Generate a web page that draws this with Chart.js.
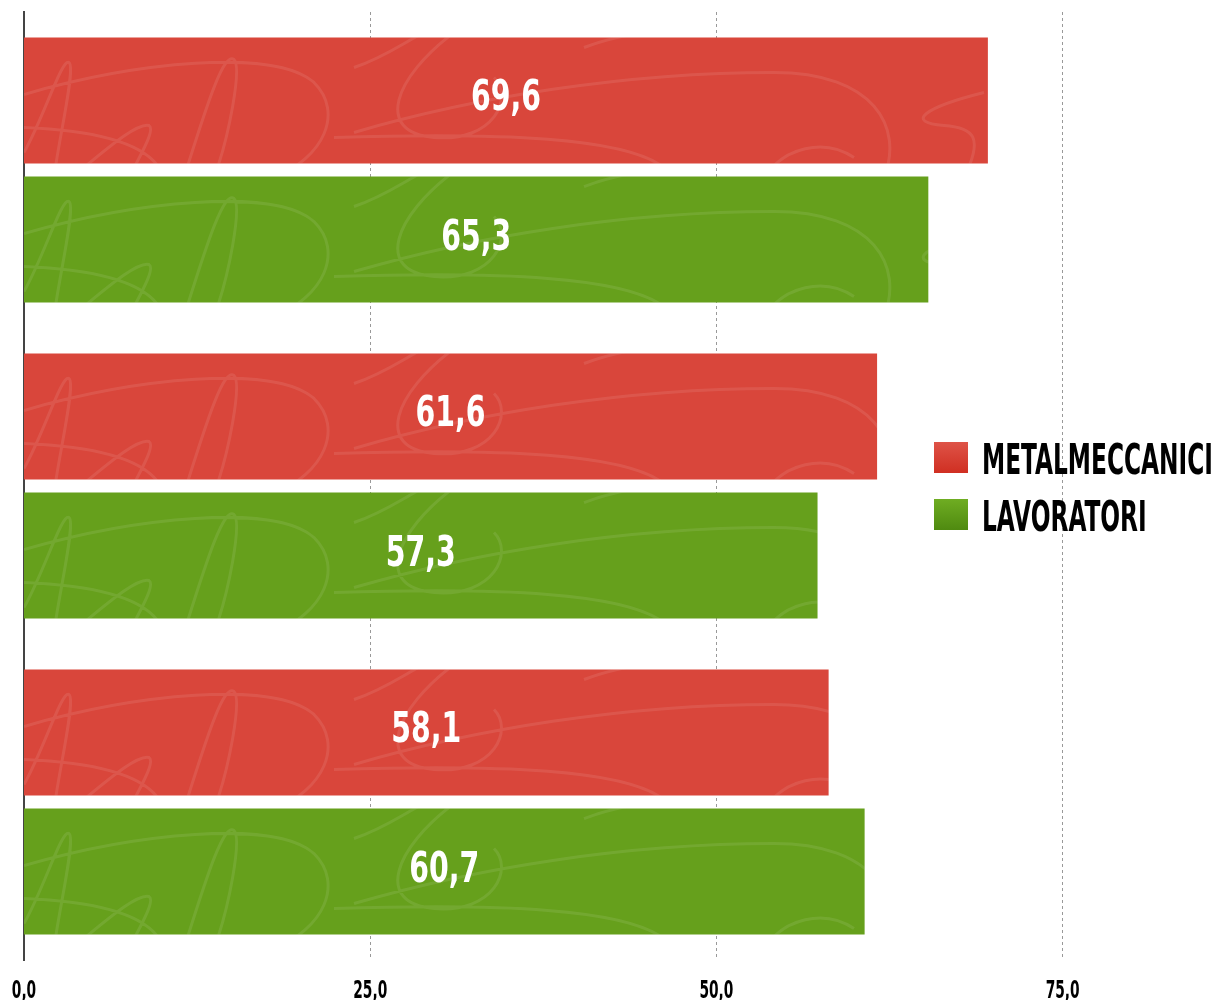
<!DOCTYPE html>
<html>
<head>
<meta charset="utf-8">
<script src="https://cdn.jsdelivr.net/npm/chart.js@4.4.1/dist/chart.umd.min.js"></script>
<style>
  html, body { margin: 0; padding: 0; background: #fff; }
  #wrap { width: 1215px; height: 1000px; position: relative; }
</style>
</head>
<body>
<div id="wrap"><canvas id="chart"></canvas></div>
<script>
// data
const categories = ["1", "2", "3"];
const seriesNames = ["METALMECCANICI", "LAVORATORI"];
const metalmeccanici = [69.6, 61.6, 58.1];
const lavoratori = [65.3, 57.3, 60.7];
const xTicks = [0, 25, 50, 75];

const FONT = "'Liberation Sans Narrow', 'DejaVu Sans Condensed', 'DejaVu Sans', sans-serif";
const RED = '#d9463b';
const GREEN = '#66a01c';

const fmt = v => v.toFixed(1).replace('.', ',');

// draw text squeezed horizontally so a sample string gets a given width
function narrowText(ctx, text, x, y, size, sx, align, color) {
  ctx.save();
  ctx.font = 'bold ' + size + 'px ' + FONT;
  ctx.fillStyle = color;
  ctx.textBaseline = 'alphabetic';
  const w = ctx.measureText(text).width * sx;
  let left = x;
  if (align === 'center') left = x - w / 2;
  ctx.translate(left, y);
  ctx.scale(sx, 1);
  ctx.fillText(text, 0, 0);
  ctx.restore();
}
function squeeze(ctx, sample, size, target) {
  ctx.save();
  ctx.font = 'bold ' + size + 'px ' + FONT;
  const w = ctx.measureText(sample).width;
  ctx.restore();
  return target / w;
}

// faint scribble texture drawn inside every bar, relative to bar's top-left
function scribble(ctx, x0, y0, w, h) {
  ctx.save();
  ctx.beginPath();
  ctx.rect(x0, y0, w, h);
  ctx.clip();
  ctx.translate(x0, y0);
  ctx.scale(1, h / 126);
  ctx.strokeStyle = 'rgba(255,255,255,0.09)';
  ctx.lineWidth = 3;
  ctx.beginPath();
  ctx.moveTo(0, 57);
  ctx.bezierCurveTo(110, 25, 250, 10, 290, 45);
  ctx.bezierCurveTo(320, 75, 300, 120, 250, 140);
  ctx.moveTo(160, 140);
  ctx.bezierCurveTo(185, 60, 200, 15, 210, 22);
  ctx.bezierCurveTo(218, 30, 205, 100, 190, 140);
  ctx.moveTo(0, 115);
  ctx.bezierCurveTo(20, 80, 38, 20, 45, 25);
  ctx.bezierCurveTo(52, 30, 35, 100, 30, 140);
  ctx.moveTo(0, 90);
  ctx.bezierCurveTo(50, 92, 115, 100, 135, 130);
  ctx.moveTo(60, 130);
  ctx.bezierCurveTo(90, 105, 115, 85, 125, 88);
  ctx.bezierCurveTo(132, 92, 115, 120, 105, 140);
  ctx.moveTo(430, -5);
  ctx.bezierCurveTo(370, 40, 350, 95, 410, 100);
  ctx.bezierCurveTo(470, 105, 490, 60, 470, 40);
  ctx.moveTo(330, 30);
  ctx.bezierCurveTo(360, 20, 380, 5, 400, -5);
  ctx.moveTo(330, 95);
  ctx.bezierCurveTo(450, 60, 600, 35, 750, 35);
  ctx.bezierCurveTo(850, 35, 880, 90, 860, 140);
  ctx.moveTo(310, 100);
  ctx.bezierCurveTo(480, 95, 600, 100, 640, 130);
  ctx.moveTo(740, 140);
  ctx.bezierCurveTo(760, 110, 800, 100, 830, 120);
  ctx.moveTo(960, 55);
  ctx.bezierCurveTo(900, 70, 880, 85, 920, 88);
  ctx.bezierCurveTo(950, 90, 960, 100, 940, 140);
  ctx.moveTo(560, 10);
  ctx.bezierCurveTo(600, -5, 640, -10, 700, -5);
  ctx.stroke();
  ctx.restore();
}

const barDecor = {
  id: 'barDecor',
  afterDatasetsDraw(chart) {
    const ctx = chart.ctx;
    const sx = squeeze(ctx, '69,6', 42, 70);
    chart.data.datasets.forEach((ds, i) => {
      const meta = chart.getDatasetMeta(i);
      meta.data.forEach((el, j) => {
        const p = el.getProps(['x', 'y', 'base', 'height'], true);
        const left = Math.min(p.base, p.x);
        const w = Math.abs(p.x - p.base);
        scribble(ctx, left, p.y - p.height / 2, w, p.height);
        narrowText(ctx, fmt(ds.data[j]), left + w / 2, p.y + 10, 42, sx, 'center', '#fff');
      });
    });
  }
};

// x tick labels in the same squeezed face
const tickText = {
  id: 'tickText',
  afterDraw(chart) {
    const ctx = chart.ctx;
    const xs = chart.scales.x;
    const sx = squeeze(ctx, '25,0', 25, 34);
    xs.ticks.forEach(t => {
      narrowText(ctx, fmt(t.value), xs.getPixelForValue(t.value), 998, 25, sx, 'center', '#000');
    });
  }
};

const sideLegend = {
  id: 'sideLegend',
  afterDraw(chart) {
    const ctx = chart.ctx;
    const x = 934, y0 = 442, rowGap = 57;
    const sx = squeeze(ctx, seriesNames[0], 42, 231);
    chart.data.datasets.forEach((ds, i) => {
      const y = y0 + i * rowGap;
      const g = ctx.createLinearGradient(0, y, 0, y + 31);
      g.addColorStop(0, i === 0 ? '#de5347' : '#6fad22');
      g.addColorStop(1, i === 0 ? '#d02f22' : '#4f8a10');
      ctx.fillStyle = g;
      ctx.fillRect(x, y, 34, 31);
      narrowText(ctx, ds.label, 982, y + 32, 42, sx, 'left', '#000');
    });
  }
};

new Chart(document.getElementById('chart'), {
  type: 'bar',
  data: {
    labels: categories,
    datasets: [
      { label: seriesNames[0], data: metalmeccanici, backgroundColor: RED,
        barPercentage: 0.906, categoryPercentage: 0.88 },
      { label: seriesNames[1], data: lavoratori, backgroundColor: GREEN,
        barPercentage: 0.906, categoryPercentage: 0.88 }
    ]
  },
  options: {
    indexAxis: 'y',
    responsive: true,
    maintainAspectRatio: false,
    animation: false,
    layout: { padding: { top: 12, left: 24, right: 0, bottom: 0 } },
    plugins: { legend: { display: false }, tooltip: { enabled: false } },
    scales: {
      x: {
        min: 0,
        max: 86,
        afterBuildTicks: s => { s.ticks = xTicks.map(v => ({ value: v })); },
        grid: {
          color: '#999',
          drawTicks: false,
          lineWidth: c => (c.tick && c.tick.value === 0 ? 0 : 1)
        },
        border: { display: false, dash: [3, 3] },
        ticks: {
          color: 'rgba(0,0,0,0)',
          padding: 14,
          maxRotation: 0,
          font: { size: 10 },
          callback: v => fmt(v)
        }
      },
      y: {
        grid: { display: false, drawTicks: false },
        ticks: { display: false },
        border: { display: true, color: '#444', width: 2 }
      }
    }
  },
  plugins: [barDecor, tickText, sideLegend]
});
</script>
</body>
</html>
